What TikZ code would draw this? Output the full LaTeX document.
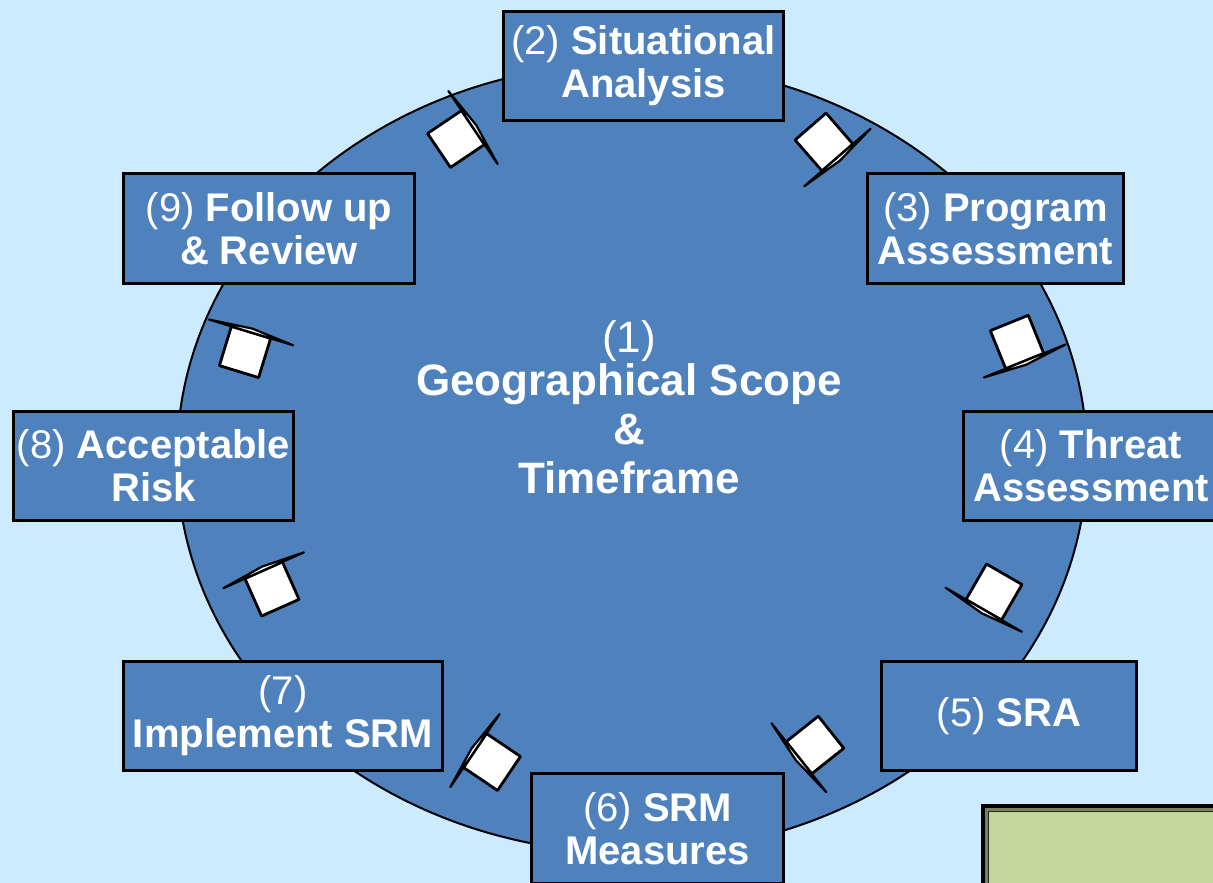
\documentclass[tikz,border=0pt]{standalone}
\usepackage{fontspec}
\setmainfont{Liberation Sans}
\usepackage{tikz}

\definecolor{bgblue}{RGB}{204,235,255}
\definecolor{ringblue}{RGB}{79,129,189}
\definecolor{legendgreen}{RGB}{195,214,155}

\begin{document}
\begin{tikzpicture}[x=1pt,y=1pt,
  stage/.style={draw=black, line width=3pt, fill=ringblue, text=white, align=center,
    inner sep=0pt, minimum height=109pt, font=\fontsize{40}{43}\selectfont},
  hub/.style={text=white, align=center, inner sep=0pt, font=\fontsize{44}{49}\selectfont},
  cyclearrow/.pic={
    \draw [fill=white, line width=2.8pt, line join=round] (-20.5,-20.5) rectangle (20.5,20.5);
    \draw [fill=white, line width=2.2pt, line join=round] (20.5,-44) -- (24.5,0) -- (20.5,44) -- cycle;
  }]
\useasboundingbox (0,0) rectangle (1213,883);
\fill [bgblue] (0,0) rectangle (1213,883);
\draw [fill=ringblue, line width=2pt] (632,425) ellipse [x radius=455, y radius=395];
\node [hub] (geo) at (629,475.5) {(1)\\[-6pt]\textbf{Geographical Scope}\\\textbf{\&}\\\textbf{Timeframe}};
\pic [rotate=34] at (456,744) {cyclearrow};
\pic [rotate=-49] at (824,741) {cyclearrow};
\pic [rotate=-68] at (1017,541) {cyclearrow};
\pic [rotate=-120] at (994,291) {cyclearrow};
\pic [rotate=-141.5] at (815,138) {cyclearrow};
\pic [rotate=146] at (492,121) {cyclearrow};
\pic [rotate=114] at (272,294) {cyclearrow};
\pic [rotate=73] at (245,531) {cyclearrow};
\node [stage, minimum width=280pt] (sitan) at (643.5,817) {(2) \textbf{Situational}\\\textbf{Analysis}};
\node [stage, minimum width=256pt, minimum height=110pt] (progass) at (995.5,654.5) {(3) \textbf{Program}\\\textbf{Assessment}};
\node [stage, minimum width=255pt] (threat) at (1091,417) {(4) \textbf{Threat}\\\textbf{Assessment}};
\node [stage, minimum width=255pt] (sra) at (1009,167) {(5) \textbf{SRA}};
\node [stage, minimum width=252pt, minimum height=110pt] (srm) at (657.5,54.5) {(6) \textbf{SRM}\\\textbf{Measures}};
\node [stage, minimum width=319pt] (implsrm) at (283,167) {(7)\\\textbf{Implement SRM}};
\node [stage, minimum width=280pt] (accrisk) at (153.5,417) {(8) \textbf{Acceptable}\\\textbf{Risk}};
\node [stage, minimum width=291pt, minimum height=110pt] (followup) at (269,654.5) {(9) \textbf{Follow up}\\\textbf{\& Review}};
\fill [legendgreen!60!black] (983,-10) rectangle (1230,76.5);
\fill [legendgreen] (988.5,-10) rectangle (1230,71.5);
\draw [line width=1.2pt, black!85] (988.5,-10) rectangle (1230,71.5);
\draw [line width=4pt] (983,-10) rectangle (1230,76.5);
\end{tikzpicture}
\end{document}
